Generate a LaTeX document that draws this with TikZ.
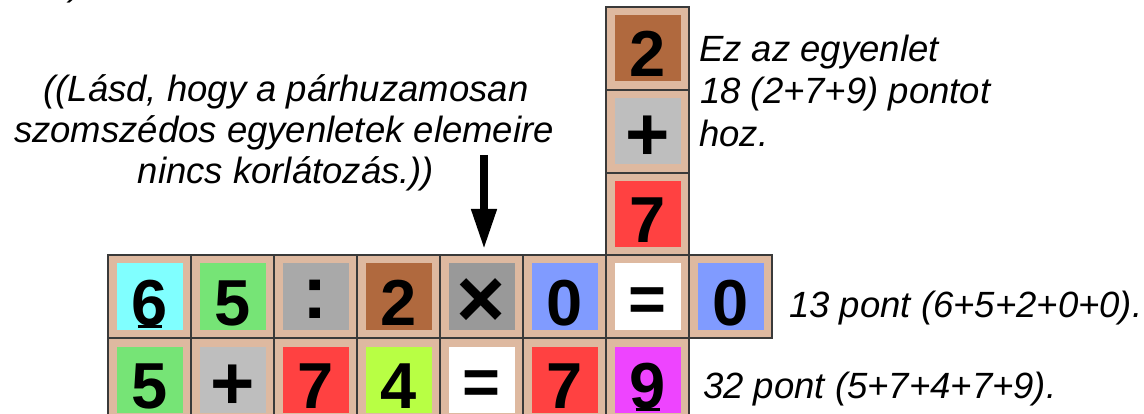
\documentclass[tikz,border=0pt]{standalone}
\usepackage{fontspec}
\setmainfont{Liberation Sans}
\usetikzlibrary{arrows.meta}
\definecolor{tilebeige}{HTML}{DEB9A0}
\definecolor{tileline}{HTML}{3A3A3A}
\definecolor{ccyan}{HTML}{80FFFF}
\definecolor{cgreen}{HTML}{76E476}
\definecolor{ccolon}{HTML}{A9A9A9}
\definecolor{cbrown}{HTML}{B0693E}
\definecolor{ctimes}{HTML}{999999}
\definecolor{cblue}{HTML}{809BFF}
\definecolor{cred}{HTML}{FF4141}
\definecolor{clime}{HTML}{B8FF44}
\definecolor{cmag}{HTML}{EE44FF}
\definecolor{cplus}{HTML}{BEBEBE}
\tikzset{
  tileo/.style={draw=tileline, fill=tilebeige, line width=1.2pt, minimum size=83pt, inner sep=0pt, outer sep=0pt},
  tilei/.style={minimum size=66pt, inner sep=0pt, outer sep=0pt},
  digit/.style={anchor=base, inner sep=0pt, font=\fontsize{65}{65}\selectfont\bfseries},
  bigsym/.style={anchor=base, inner sep=0pt, font=\fontsize{76}{76}\selectfont\bfseries},
  timessym/.style={anchor=base, inner sep=0pt, font=\fontsize{84}{84}\selectfont\bfseries},
  note/.style={inner sep=0pt, font=\fontsize{36.5}{42}\selectfont\itshape},
  bigarrow/.style={line width=7.5pt, -{Triangle[width=24pt,length=40pt]}},
  uline/.style={line width=2.2pt}
}
% name, left x, top y, fill, text
\newcommand\dtile[5]{%
  \node[tileo] (#1) at (#2+41.5,#3+41.5) {};
  \node[tilei,fill=#4] (#1i) at (#2+41.5,#3+41.5) {};
  \node[digit] (#1t) at (#2+41.5,#3+70) {#5};
}
\newcommand\stile[7]{% name, x, y, fill, symbol, baseline offset, style
  \node[tileo] (#1) at (#2+41.5,#3+41.5) {};
  \node[tilei,fill=#4] (#1i) at (#2+41.5,#3+41.5) {};
  \node[#7] (#1t) at (#2+41.5,#3+#6) {#5};
}
\begin{document}
\begin{tikzpicture}[x=1pt,y=-1pt]
\clip (0,0) rectangle (1144,414);
\useasboundingbox (0,0) rectangle (1144,414);
\fill[white] (0,0) rectangle (1144,414);
% vertical column
\dtile{va}{606}{7}{cbrown}{2}
\stile{vb}{606}{90}{cplus}{+}{71}{bigsym}
\dtile{vc}{606}{173}{cred}{7}
% row 1
\dtile{ra}{108}{255}{ccyan}{6}
\dtile{rb}{191}{255}{cgreen}{5}
\stile{rc}{274}{255}{ccolon}{:}{63.5}{bigsym}
\dtile{rd}{357}{255}{cbrown}{2}
\stile{re}{440}{255}{ctimes}{×}{72}{timessym}
\dtile{rf}{523}{255}{cblue}{0}
\stile{rg}{606}{255}{white}{=}{66.5}{digit}
\dtile{rh}{689}{255}{cblue}{0}
% row 2
\dtile{sa}{108}{338}{cgreen}{5}
\stile{sb}{191}{338}{cplus}{+}{71}{bigsym}
\dtile{sc}{274}{338}{cred}{7}
\dtile{sd}{357}{338}{clime}{4}
\stile{se}{440}{338}{white}{=}{66.5}{digit}
\dtile{sf}{523}{338}{cred}{7}
\dtile{sg}{606}{338}{cmag}{9}
% underlines
\draw[uline] ([xshift=-12pt,yshift=-1.5pt]rat.base) -- ([xshift=12pt,yshift=-1.5pt]rat.base);
\draw[uline] ([xshift=-12pt,yshift=-1.5pt]sgt.base) -- ([xshift=12pt,yshift=-1.5pt]sgt.base);
% arrow
\coordinate (arrowstart) at (484,155);
\draw[bigarrow, shorten >=6pt] (arrowstart) -- (arrowstart |- re.north);
% texts
\node[note, anchor=base west] (frag) at (70,-4) {)};
\node[note, anchor=base] (l1) at (286,102) {((Lásd, hogy a párhuzamosan};
\node[note, anchor=base] (l2) at (284,143) {szomszédos egyenletek elemeire};
\node[note, anchor=base] (l3) at (286,184) {nincs korlátozás.))};
\node[note, anchor=base west] (r1) at (699,62) {Ez az egyenlet};
\node[note, anchor=base west] (r2) at (700,104) {18 (2+7+9) pontot};
\node[note, anchor=base west] (r3) at (699,147) {hoz.};
\node[note, anchor=base west] (p1) at (789,317) {13 pont (6+5+2+0+0).};
\node[note, anchor=base west] (p2) at (703,398) {32 pont (5+7+4+7+9).};
\end{tikzpicture}
\end{document}
